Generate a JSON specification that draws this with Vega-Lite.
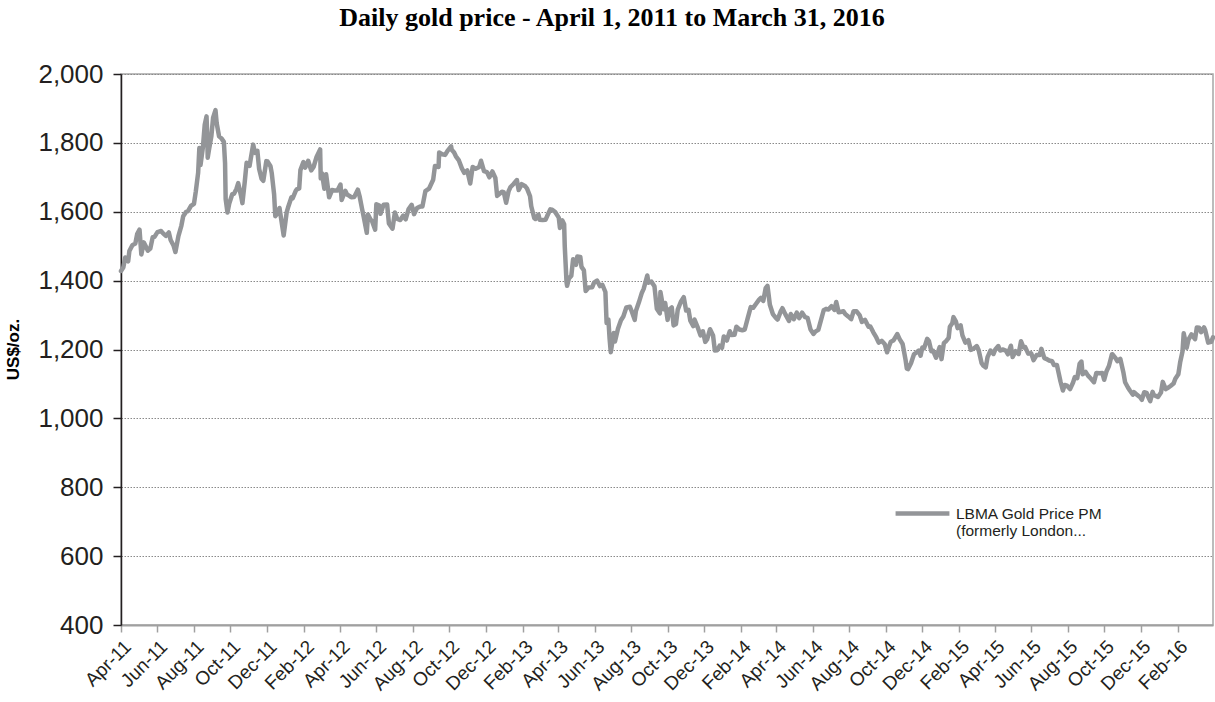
{
  "$schema": "https://vega.github.io/schema/vega-lite/v6.json",
  "autosize": {"type": "none"},
  "width": 1092,
  "height": 551,
  "padding": {"left": 121, "top": 74, "right": 2, "bottom": 77},
  "background": "white",
  "title": {
    "text": "Daily gold price - April 1, 2011 to March 31, 2016",
    "font": "Liberation Serif",
    "fontSize": 26,
    "fontWeight": "bold",
    "color": "#000000",
    "anchor": "middle",
    "dx": -55,
    "offset": 30
  },
  "config": {
    "view": {"stroke": "#a6a6a6", "strokeWidth": 1.5}
  },
  "data": {
    "values": [
      {"d":"2011-04-01","p":1428},{"d":"2011-04-05","p":1439},{"d":"2011-04-08","p":1467},{"d":"2011-04-13","p":1456},{"d":"2011-04-15","p":1486},{"d":"2011-04-20","p":1503},{"d":"2011-04-25","p":1508},{"d":"2011-04-28","p":1535},
      {"d":"2011-05-02","p":1548},{"d":"2011-05-05","p":1476},{"d":"2011-05-09","p":1511},{"d":"2011-05-12","p":1501},{"d":"2011-05-16","p":1487},{"d":"2011-05-20","p":1493},{"d":"2011-05-24","p":1526},{"d":"2011-05-27","p":1527},
      {"d":"2011-06-01","p":1541},{"d":"2011-06-07","p":1544},{"d":"2011-06-10","p":1538},{"d":"2011-06-15","p":1530},{"d":"2011-06-20","p":1540},{"d":"2011-06-23","p":1518},{"d":"2011-06-28","p":1501},
      {"d":"2011-07-01","p":1483},{"d":"2011-07-06","p":1529},{"d":"2011-07-11","p":1560},{"d":"2011-07-14","p":1587},{"d":"2011-07-19","p":1600},{"d":"2011-07-22","p":1602},{"d":"2011-07-27","p":1617},
      {"d":"2011-08-01","p":1623},{"d":"2011-08-04","p":1658},{"d":"2011-08-08","p":1713},{"d":"2011-08-10","p":1785},{"d":"2011-08-12","p":1736},{"d":"2011-08-16","p":1788},{"d":"2011-08-19","p":1853},{"d":"2011-08-22","p":1877},{"d":"2011-08-23","p":1832},{"d":"2011-08-24","p":1757},{"d":"2011-08-26","p":1779},{"d":"2011-08-30","p":1818},
      {"d":"2011-09-02","p":1873},{"d":"2011-09-06","p":1895},{"d":"2011-09-08","p":1857},{"d":"2011-09-12","p":1819},{"d":"2011-09-16","p":1813},{"d":"2011-09-20","p":1803},{"d":"2011-09-22","p":1741},{"d":"2011-09-23","p":1637},{"d":"2011-09-26","p":1598},{"d":"2011-09-29","p":1624},
      {"d":"2011-10-04","p":1651},{"d":"2011-10-07","p":1652},{"d":"2011-10-11","p":1666},{"d":"2011-10-14","p":1683},{"d":"2011-10-19","p":1644},{"d":"2011-10-21","p":1625},{"d":"2011-10-25","p":1688},{"d":"2011-10-28","p":1742},
      {"d":"2011-11-02","p":1733},{"d":"2011-11-04","p":1754},{"d":"2011-11-08","p":1795},{"d":"2011-11-11","p":1771},{"d":"2011-11-15","p":1777},{"d":"2011-11-18","p":1724},{"d":"2011-11-22","p":1696},{"d":"2011-11-25","p":1690},{"d":"2011-11-30","p":1747},
      {"d":"2011-12-02","p":1746},{"d":"2011-12-07","p":1732},{"d":"2011-12-09","p":1713},{"d":"2011-12-13","p":1651},{"d":"2011-12-15","p":1587},{"d":"2011-12-19","p":1596},{"d":"2011-12-22","p":1611},{"d":"2011-12-29","p":1531},
      {"d":"2012-01-03","p":1598},{"d":"2012-01-06","p":1616},{"d":"2012-01-11","p":1642},{"d":"2012-01-13","p":1639},{"d":"2012-01-18","p":1660},{"d":"2012-01-20","p":1665},{"d":"2012-01-24","p":1668},{"d":"2012-01-26","p":1721},{"d":"2012-01-31","p":1744},
      {"d":"2012-02-03","p":1728},{"d":"2012-02-08","p":1748},{"d":"2012-02-13","p":1720},{"d":"2012-02-17","p":1730},{"d":"2012-02-22","p":1759},{"d":"2012-02-28","p":1781},{"d":"2012-02-29","p":1697},
      {"d":"2012-03-02","p":1712},{"d":"2012-03-06","p":1667},{"d":"2012-03-09","p":1709},{"d":"2012-03-14","p":1642},{"d":"2012-03-19","p":1663},{"d":"2012-03-23","p":1662},{"d":"2012-03-28","p":1662},
      {"d":"2012-04-02","p":1679},{"d":"2012-04-04","p":1634},{"d":"2012-04-10","p":1661},{"d":"2012-04-13","p":1650},{"d":"2012-04-17","p":1646},{"d":"2012-04-20","p":1642},{"d":"2012-04-25","p":1643},
      {"d":"2012-05-01","p":1664},{"d":"2012-05-04","p":1645},{"d":"2012-05-08","p":1609},{"d":"2012-05-11","p":1584},{"d":"2012-05-16","p":1539},{"d":"2012-05-18","p":1592},{"d":"2012-05-22","p":1578},{"d":"2012-05-25","p":1572},{"d":"2012-05-30","p":1548},
      {"d":"2012-06-01","p":1622},{"d":"2012-06-06","p":1618},{"d":"2012-06-08","p":1594},{"d":"2012-06-13","p":1620},{"d":"2012-06-19","p":1621},{"d":"2012-06-22","p":1566},{"d":"2012-06-28","p":1551},
      {"d":"2012-07-02","p":1598},{"d":"2012-07-06","p":1579},{"d":"2012-07-11","p":1576},{"d":"2012-07-16","p":1589},{"d":"2012-07-20","p":1578},{"d":"2012-07-25","p":1608},{"d":"2012-07-30","p":1620},
      {"d":"2012-08-03","p":1593},{"d":"2012-08-08","p":1611},{"d":"2012-08-13","p":1615},{"d":"2012-08-17","p":1615},{"d":"2012-08-22","p":1660},{"d":"2012-08-28","p":1667},
      {"d":"2012-09-04","p":1693},{"d":"2012-09-07","p":1733},{"d":"2012-09-13","p":1730},{"d":"2012-09-14","p":1772},{"d":"2012-09-19","p":1767},{"d":"2012-09-24","p":1765},{"d":"2012-09-28","p":1777},
      {"d":"2012-10-04","p":1790},{"d":"2012-10-05","p":1780},{"d":"2012-10-09","p":1772},{"d":"2012-10-12","p":1761},{"d":"2012-10-17","p":1749},{"d":"2012-10-22","p":1726},{"d":"2012-10-26","p":1713},{"d":"2012-10-31","p":1720},
      {"d":"2012-11-05","p":1682},{"d":"2012-11-09","p":1730},{"d":"2012-11-14","p":1725},{"d":"2012-11-20","p":1730},{"d":"2012-11-23","p":1748},{"d":"2012-11-28","p":1718},
      {"d":"2012-12-03","p":1715},{"d":"2012-12-07","p":1700},{"d":"2012-12-12","p":1717},{"d":"2012-12-17","p":1698},{"d":"2012-12-20","p":1646},{"d":"2012-12-28","p":1658},{"d":"2012-12-31","p":1657},
      {"d":"2013-01-04","p":1626},{"d":"2013-01-08","p":1659},{"d":"2013-01-11","p":1671},{"d":"2013-01-16","p":1680},{"d":"2013-01-22","p":1692},{"d":"2013-01-25","p":1663},{"d":"2013-01-30","p":1680},
      {"d":"2013-02-05","p":1674},{"d":"2013-02-08","p":1667},{"d":"2013-02-13","p":1645},{"d":"2013-02-15","p":1616},{"d":"2013-02-20","p":1582},{"d":"2013-02-22","p":1579},{"d":"2013-02-27","p":1592},
      {"d":"2013-03-01","p":1577},{"d":"2013-03-06","p":1576},{"d":"2013-03-11","p":1577},{"d":"2013-03-14","p":1589},{"d":"2013-03-19","p":1607},{"d":"2013-03-22","p":1606},{"d":"2013-03-27","p":1599},
      {"d":"2013-04-02","p":1583},{"d":"2013-04-04","p":1553},{"d":"2013-04-08","p":1575},{"d":"2013-04-11","p":1564},{"d":"2013-04-12","p":1501},{"d":"2013-04-15","p":1395},{"d":"2013-04-16","p":1385},{"d":"2013-04-19","p":1406},{"d":"2013-04-23","p":1414},{"d":"2013-04-26","p":1462},
      {"d":"2013-05-01","p":1446},{"d":"2013-05-03","p":1470},{"d":"2013-05-08","p":1469},{"d":"2013-05-10","p":1440},{"d":"2013-05-14","p":1430},{"d":"2013-05-17","p":1370},{"d":"2013-05-22","p":1380},{"d":"2013-05-28","p":1381},{"d":"2013-05-31","p":1394},
      {"d":"2013-06-05","p":1400},{"d":"2013-06-10","p":1384},{"d":"2013-06-14","p":1388},{"d":"2013-06-19","p":1367},{"d":"2013-06-21","p":1277},{"d":"2013-06-24","p":1287},{"d":"2013-06-26","p":1232},{"d":"2013-06-28","p":1192},
      {"d":"2013-07-03","p":1248},{"d":"2013-07-05","p":1223},{"d":"2013-07-10","p":1260},{"d":"2013-07-15","p":1285},{"d":"2013-07-19","p":1296},{"d":"2013-07-24","p":1322},{"d":"2013-07-30","p":1324},
      {"d":"2013-08-02","p":1311},{"d":"2013-08-07","p":1286},{"d":"2013-08-09","p":1312},{"d":"2013-08-14","p":1337},{"d":"2013-08-19","p":1365},{"d":"2013-08-22","p":1376},{"d":"2013-08-28","p":1415},{"d":"2013-08-30","p":1394},
      {"d":"2013-09-04","p":1397},{"d":"2013-09-09","p":1384},{"d":"2013-09-13","p":1318},{"d":"2013-09-18","p":1305},{"d":"2013-09-19","p":1367},{"d":"2013-09-24","p":1317},{"d":"2013-09-27","p":1335},
      {"d":"2013-10-01","p":1286},{"d":"2013-10-04","p":1316},{"d":"2013-10-08","p":1322},{"d":"2013-10-11","p":1270},{"d":"2013-10-15","p":1274},{"d":"2013-10-18","p":1316},{"d":"2013-10-23","p":1338},{"d":"2013-10-28","p":1352},
      {"d":"2013-11-01","p":1313},{"d":"2013-11-05","p":1315},{"d":"2013-11-08","p":1284},{"d":"2013-11-13","p":1268},{"d":"2013-11-15","p":1287},{"d":"2013-11-20","p":1266},{"d":"2013-11-25","p":1241},{"d":"2013-11-29","p":1253},
      {"d":"2013-12-03","p":1222},{"d":"2013-12-06","p":1229},{"d":"2013-12-11","p":1259},{"d":"2013-12-16","p":1241},{"d":"2013-12-19","p":1197},{"d":"2013-12-23","p":1198},{"d":"2013-12-27","p":1211},{"d":"2013-12-31","p":1205},
      {"d":"2014-01-03","p":1238},{"d":"2014-01-08","p":1226},{"d":"2014-01-13","p":1253},{"d":"2014-01-16","p":1242},{"d":"2014-01-21","p":1243},{"d":"2014-01-24","p":1266},{"d":"2014-01-29","p":1258},
      {"d":"2014-02-03","p":1256},{"d":"2014-02-07","p":1258},{"d":"2014-02-12","p":1291},{"d":"2014-02-17","p":1323},{"d":"2014-02-21","p":1321},{"d":"2014-02-26","p":1333},
      {"d":"2014-03-03","p":1345},{"d":"2014-03-06","p":1350},{"d":"2014-03-10","p":1341},{"d":"2014-03-14","p":1378},{"d":"2014-03-17","p":1385},{"d":"2014-03-19","p":1358},{"d":"2014-03-21","p":1330},{"d":"2014-03-26","p":1303},{"d":"2014-03-31","p":1292},
      {"d":"2014-04-03","p":1287},{"d":"2014-04-08","p":1310},{"d":"2014-04-11","p":1320},{"d":"2014-04-16","p":1302},{"d":"2014-04-22","p":1283},{"d":"2014-04-25","p":1303},{"d":"2014-04-30","p":1288},
      {"d":"2014-05-05","p":1307},{"d":"2014-05-09","p":1291},{"d":"2014-05-14","p":1307},{"d":"2014-05-19","p":1294},{"d":"2014-05-23","p":1292},{"d":"2014-05-28","p":1258},
      {"d":"2014-06-02","p":1245},{"d":"2014-06-05","p":1252},{"d":"2014-06-10","p":1257},{"d":"2014-06-13","p":1276},{"d":"2014-06-19","p":1314},{"d":"2014-06-23","p":1318},{"d":"2014-06-27","p":1316},
      {"d":"2014-07-02","p":1326},{"d":"2014-07-07","p":1315},{"d":"2014-07-10","p":1338},{"d":"2014-07-14","p":1308},{"d":"2014-07-17","p":1309},{"d":"2014-07-22","p":1311},{"d":"2014-07-25","p":1303},{"d":"2014-07-30","p":1296},
      {"d":"2014-08-04","p":1288},{"d":"2014-08-08","p":1311},{"d":"2014-08-13","p":1311},{"d":"2014-08-18","p":1300},{"d":"2014-08-22","p":1280},{"d":"2014-08-27","p":1286},
      {"d":"2014-09-02","p":1266},{"d":"2014-09-05","p":1267},{"d":"2014-09-10","p":1250},{"d":"2014-09-15","p":1235},{"d":"2014-09-19","p":1220},{"d":"2014-09-24","p":1225},{"d":"2014-09-29","p":1216},
      {"d":"2014-10-03","p":1192},{"d":"2014-10-06","p":1208},{"d":"2014-10-09","p":1222},{"d":"2014-10-14","p":1227},{"d":"2014-10-20","p":1245},{"d":"2014-10-24","p":1230},{"d":"2014-10-29","p":1216},
      {"d":"2014-11-03","p":1169},{"d":"2014-11-05","p":1145},{"d":"2014-11-07","p":1143},{"d":"2014-11-12","p":1160},{"d":"2014-11-17","p":1186},{"d":"2014-11-20","p":1190},{"d":"2014-11-25","p":1197},{"d":"2014-11-28","p":1182},
      {"d":"2014-12-01","p":1206},{"d":"2014-12-04","p":1204},{"d":"2014-12-09","p":1231},{"d":"2014-12-12","p":1225},{"d":"2014-12-16","p":1195},{"d":"2014-12-19","p":1196},{"d":"2014-12-24","p":1176},{"d":"2014-12-30","p":1207},
      {"d":"2015-01-02","p":1172},{"d":"2015-01-06","p":1219},{"d":"2015-01-09","p":1223},{"d":"2015-01-14","p":1234},{"d":"2015-01-16","p":1266},{"d":"2015-01-20","p":1276},{"d":"2015-01-22","p":1294},{"d":"2015-01-26","p":1282},{"d":"2015-01-29","p":1262},
      {"d":"2015-02-03","p":1270},{"d":"2015-02-06","p":1241},{"d":"2015-02-11","p":1220},{"d":"2015-02-16","p":1227},{"d":"2015-02-20","p":1199},{"d":"2015-02-25","p":1203},
      {"d":"2015-03-02","p":1210},{"d":"2015-03-05","p":1199},{"d":"2015-03-10","p":1161},{"d":"2015-03-13","p":1153},{"d":"2015-03-17","p":1148},{"d":"2015-03-20","p":1178},{"d":"2015-03-25","p":1197},{"d":"2015-03-30","p":1187},
      {"d":"2015-04-02","p":1200},{"d":"2015-04-07","p":1210},{"d":"2015-04-10","p":1197},{"d":"2015-04-15","p":1200},{"d":"2015-04-20","p":1196},{"d":"2015-04-23","p":1186},{"d":"2015-04-28","p":1211},
      {"d":"2015-05-01","p":1178},{"d":"2015-05-06","p":1195},{"d":"2015-05-11","p":1187},{"d":"2015-05-15","p":1224},{"d":"2015-05-19","p":1206},{"d":"2015-05-22","p":1207},{"d":"2015-05-27","p":1188},
      {"d":"2015-06-01","p":1189},{"d":"2015-06-05","p":1169},{"d":"2015-06-10","p":1184},{"d":"2015-06-15","p":1184},{"d":"2015-06-18","p":1202},{"d":"2015-06-23","p":1175},{"d":"2015-06-26","p":1173},
      {"d":"2015-07-01","p":1168},{"d":"2015-07-06","p":1166},{"d":"2015-07-09","p":1155},{"d":"2015-07-14","p":1155},{"d":"2015-07-17","p":1131},{"d":"2015-07-20","p":1107},{"d":"2015-07-24","p":1081},{"d":"2015-07-27","p":1097},{"d":"2015-07-31","p":1095},
      {"d":"2015-08-05","p":1085},{"d":"2015-08-10","p":1104},{"d":"2015-08-13","p":1120},{"d":"2015-08-17","p":1117},{"d":"2015-08-21","p":1159},{"d":"2015-08-24","p":1165},{"d":"2015-08-26","p":1128},{"d":"2015-08-31","p":1135},
      {"d":"2015-09-04","p":1124},{"d":"2015-09-09","p":1115},{"d":"2015-09-14","p":1105},{"d":"2015-09-18","p":1132},{"d":"2015-09-23","p":1131},{"d":"2015-09-28","p":1132},
      {"d":"2015-10-01","p":1112},{"d":"2015-10-05","p":1137},{"d":"2015-10-09","p":1152},{"d":"2015-10-14","p":1186},{"d":"2015-10-15","p":1186},{"d":"2015-10-20","p":1175},{"d":"2015-10-23","p":1166},{"d":"2015-10-28","p":1173},
      {"d":"2015-11-02","p":1135},{"d":"2015-11-05","p":1105},{"d":"2015-11-10","p":1089},{"d":"2015-11-13","p":1081},{"d":"2015-11-18","p":1069},{"d":"2015-11-20","p":1076},{"d":"2015-11-25","p":1068},{"d":"2015-11-30","p":1062},
      {"d":"2015-12-03","p":1054},{"d":"2015-12-07","p":1076},{"d":"2015-12-11","p":1074},{"d":"2015-12-14","p":1061},{"d":"2015-12-17","p":1050},{"d":"2015-12-21","p":1077},{"d":"2015-12-23","p":1068},{"d":"2015-12-30","p":1062},
      {"d":"2016-01-04","p":1075},{"d":"2016-01-07","p":1106},{"d":"2016-01-12","p":1085},{"d":"2016-01-15","p":1088},{"d":"2016-01-20","p":1094},{"d":"2016-01-25","p":1101},{"d":"2016-01-28","p":1115},
      {"d":"2016-02-02","p":1128},{"d":"2016-02-05","p":1162},{"d":"2016-02-09","p":1194},{"d":"2016-02-11","p":1247},{"d":"2016-02-16","p":1205},{"d":"2016-02-19","p":1229},{"d":"2016-02-24","p":1244},
      {"d":"2016-03-01","p":1230},{"d":"2016-03-04","p":1264},{"d":"2016-03-08","p":1263},{"d":"2016-03-11","p":1250},{"d":"2016-03-16","p":1264},{"d":"2016-03-18","p":1256},{"d":"2016-03-23","p":1220},{"d":"2016-03-28","p":1222},{"d":"2016-03-31","p":1235}
    ]
  },
  "mark": {"type": "line", "strokeWidth": 4.5, "strokeJoin": "round", "strokeCap": "round"},
  "encoding": {
    "x": {
      "field": "d",
      "type": "temporal",
      "scale": {
        "type": "utc",
        "domain": [{"year": 2011, "month": 4, "date": 1, "utc": true}, {"year": 2016, "month": 3, "date": 31, "utc": true}]
      },
      "axis": {
        "title": null,
        "labelExpr": "utcFormat(datum.value, '%b-%y')",
        "values": [
          {"year":2011,"month":4,"date":1,"utc":true},{"year":2011,"month":6,"date":1,"utc":true},{"year":2011,"month":8,"date":1,"utc":true},{"year":2011,"month":10,"date":1,"utc":true},{"year":2011,"month":12,"date":1,"utc":true},
          {"year":2012,"month":2,"date":1,"utc":true},{"year":2012,"month":4,"date":1,"utc":true},{"year":2012,"month":6,"date":1,"utc":true},{"year":2012,"month":8,"date":1,"utc":true},{"year":2012,"month":10,"date":1,"utc":true},{"year":2012,"month":12,"date":1,"utc":true},
          {"year":2013,"month":2,"date":1,"utc":true},{"year":2013,"month":4,"date":1,"utc":true},{"year":2013,"month":6,"date":1,"utc":true},{"year":2013,"month":8,"date":1,"utc":true},{"year":2013,"month":10,"date":1,"utc":true},{"year":2013,"month":12,"date":1,"utc":true},
          {"year":2014,"month":2,"date":1,"utc":true},{"year":2014,"month":4,"date":1,"utc":true},{"year":2014,"month":6,"date":1,"utc":true},{"year":2014,"month":8,"date":1,"utc":true},{"year":2014,"month":10,"date":1,"utc":true},{"year":2014,"month":12,"date":1,"utc":true},
          {"year":2015,"month":2,"date":1,"utc":true},{"year":2015,"month":4,"date":1,"utc":true},{"year":2015,"month":6,"date":1,"utc":true},{"year":2015,"month":8,"date":1,"utc":true},{"year":2015,"month":10,"date":1,"utc":true},{"year":2015,"month":12,"date":1,"utc":true},
          {"year":2016,"month":2,"date":1,"utc":true}
        ],
        "labelAngle": -45,
        "labelFont": "Liberation Sans",
        "labelFontSize": 19,
        "labelColor": "#231f20",
        "labelPadding": 5,
        "labelOverlap": false,
        "labelFlush": false,
        "grid": false,
        "domainColor": "#a0a0a0",
        "domainWidth": 2,
        "tickColor": "#a0a0a0",
        "tickWidth": 1.5,
        "tickSize": 7
      }
    },
    "y": {
      "field": "p",
      "type": "quantitative",
      "scale": {"domain": [400, 2000], "nice": false, "zero": false},
      "axis": {
        "title": "US$/oz.",
        "titleFont": "Liberation Sans",
        "titleFontSize": 17,
        "titleFontWeight": "bold",
        "titleColor": "#000000",
        "titleAngle": -90,
        "titleAlign": "center",
        "titleBaseline": "bottom",
        "titleX": -99,
        "titleY": 275,
        "values": [400, 600, 800, 1000, 1200, 1400, 1600, 1800, 2000],
        "format": ",d",
        "labelFont": "Liberation Sans",
        "labelFontSize": 26,
        "labelColor": "#231f20",
        "labelPadding": 10,
        "domainColor": "#231f20",
        "domainWidth": 1.5,
        "tickColor": "#231f20",
        "tickWidth": 1.5,
        "tickSize": 8,
        "grid": true,
        "gridColor": "#8a8a8a",
        "gridDash": [1.5, 1.5],
        "gridWidth": 1
      }
    },
    "color": {
      "datum": "LBMA Gold Price PM (formerly London...",
      "type": "nominal",
      "scale": {"range": ["#939598"]},
      "legend": {
        "title": null,
        "orient": "none",
        "legendX": 772,
        "legendY": 410,
        "padding": 0,
        "symbolType": "stroke",
        "symbolSize": 2900,
        "symbolStrokeWidth": 4.5,
        "labelFont": "Liberation Sans",
        "labelFontSize": 15.5,
        "labelColor": "#231f20",
        "labelOffset": 4,
        "labelLimit": 300,
        "labelBaseline": "top",
        "labelExpr": "[slice(datum.label, 0, 18), slice(datum.label, 19)]",
        "encode": {"labels": {"update": {"dy": {"value": -7}}}}
      }
    }
  }
}
